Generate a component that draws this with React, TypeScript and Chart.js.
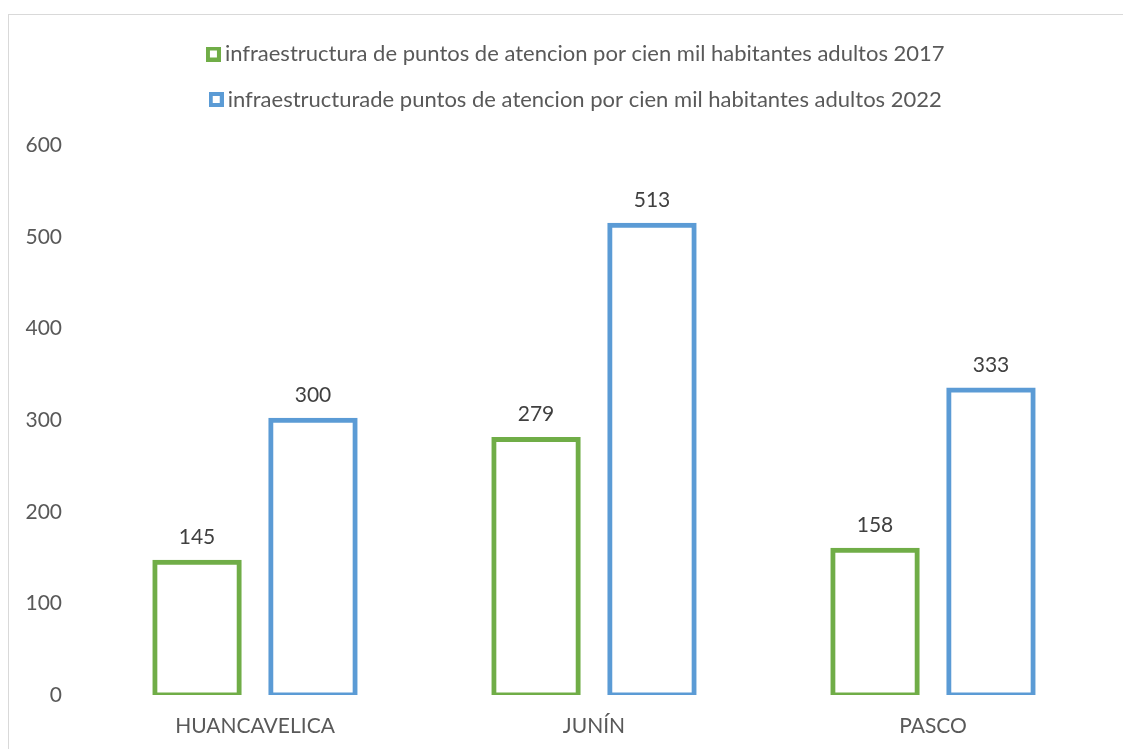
import React, { useEffect, useRef } from "react";
import { Chart, registerables } from "chart.js";

Chart.register(...registerables);

const categories = ["HUANCAVELICA", "JUNÍN", "PASCO"];
const values2017 = [145, 279, 158];
const values2022 = [300, 513, 333];
const label2017 = "infraestructura de puntos de atencion por cien mil habitantes adultos 2017";
const label2022 = "infraestructurade puntos de atencion por cien mil habitantes adultos 2022";
const yMin = 0;
const yMax = 600;
const yStep = 100;

const GREEN = "#70AD47";
const BLUE = "#5B9BD5";
const FONT = "Lato, 'Open Sans', sans-serif";

function makeMarker(color: string) {
  const c = document.createElement("canvas");
  c.width = 15;
  c.height = 15;
  const g = c.getContext("2d")!;
  g.fillStyle = color;
  g.fillRect(0, 0, 15, 15);
  g.fillStyle = "#ffffff";
  g.fillRect(4, 4, 7, 7);
  return c;
}

const valueLabels = {
  id: "valueLabels",
  afterDatasetsDraw(chart: any) {
    const ctx = chart.ctx;
    ctx.save();
    ctx.font = `21px ${FONT}`;
    ctx.fillStyle = "#404040";
    ctx.textAlign = "center";
    ctx.textBaseline = "middle";
    chart.data.datasets.forEach((ds: any, i: number) => {
      const meta = chart.getDatasetMeta(i);
      meta.data.forEach((el: any, j: number) => {
        ctx.fillText(String(ds.data[j]), el.x, el.y - 25);
      });
    });
    ctx.restore();
  },
};

const legendShift = {
  id: "legendShift",
  afterLayout(chart: any) {
    const l = chart.legend;
    if (l) {
      l.left += 23;
      l.right += 23;
    }
  },
};

export default function App() {
  const ref = useRef<HTMLCanvasElement | null>(null);

  useEffect(() => {
    if (!ref.current) return;
    const markers = [makeMarker(GREEN), makeMarker(BLUE)];
    const chart = new Chart(ref.current, {
      type: "bar",
      data: {
        labels: categories,
        datasets: [
          {
            label: label2017,
            data: values2017,
            backgroundColor: "#ffffff",
            borderColor: GREEN,
            borderWidth: 5,
            inflateAmount: 2.5,
            borderSkipped: false,
            categoryPercentage: 0.684,
            barPercentage: 0.728,
          },
          {
            label: label2022,
            data: values2022,
            backgroundColor: "#ffffff",
            borderColor: BLUE,
            borderWidth: 5,
            inflateAmount: 2.5,
            borderSkipped: false,
            categoryPercentage: 0.684,
            barPercentage: 0.728,
          },
        ],
      },
      options: {
        responsive: false,
        animation: false,
        layout: { padding: { top: 4.5, left: 0, right: 20.5, bottom: 0 } },
        plugins: {
          legend: {
            position: "top",
            weight: 3000,
            labels: {
              font: { family: FONT, size: 22 },
              color: "#595959",
              usePointStyle: true,
              boxWidth: 1,
              boxHeight: 15,
              padding: 23.5,
              generateLabels: (chart: any) =>
                chart.data.datasets.map((ds: any, i: number) => ({
                  text: ds.label,
                  fillStyle: "#ffffff",
                  strokeStyle: ds.borderColor,
                  lineWidth: 0,
                  pointStyle: markers[i],
                  fontColor: "#595959",
                  hidden: false,
                  datasetIndex: i,
                })),
            },
          } as any,
          title: {
            display: true,
            text: "",
            weight: 2000,
            font: { size: 10, lineHeight: 1 },
            padding: 7.5,
          } as any,
          tooltip: { enabled: false },
        },
        scales: {
          x: {
            grid: { display: false, drawTicks: false },
            border: { display: false },
            ticks: {
              font: { family: FONT, size: 21 },
              color: "#595959",
              padding: 18.9,
            },
            afterFit: (s: any) => {
              s.height = 54;
            },
          },
          y: {
            min: yMin,
            max: yMax,
            grid: { display: false, drawTicks: false },
            border: { display: false },
            ticks: {
              stepSize: yStep,
              font: { family: FONT, size: 21 },
              color: "#595959",
              padding: 23.5,
            },
            afterFit: (s: any) => {
              s.width = 76.5;
            },
          },
        },
      },
      plugins: [valueLabels, legendShift],
    } as any);
    return () => chart.destroy();
  }, []);

  return (
    <div
      style={{
        position: "fixed",
        left: 8,
        top: 14,
        width: 1115,
        height: 735,
        borderTop: "1px solid #d9d9d9",
        borderLeft: "1px solid #d9d9d9",
        boxSizing: "border-box",
        background: "#ffffff",
        overflow: "hidden",
      }}
    >
      <canvas
        ref={ref}
        width={1114}
        height={734}
        style={{ position: "absolute", left: 0, top: 0, width: 1114, height: 734 }}
      />
    </div>
  );
}
